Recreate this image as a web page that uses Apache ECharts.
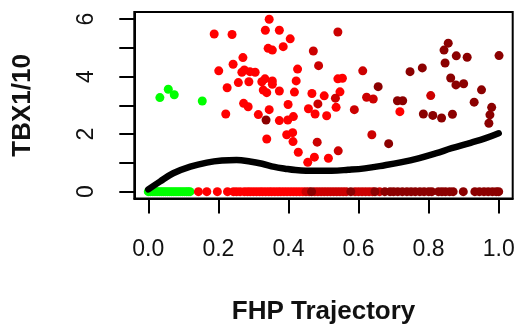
<!DOCTYPE html>
<html>
<head>
<meta charset="utf-8">
<script src="https://cdn.jsdelivr.net/npm/echarts@6/dist/echarts.min.js"></script>
<style>
  html, body { margin: 0; padding: 0; background: #fff; }
  #chart { width: 522px; height: 331px; }
</style>
</head>
<body>
<div id="chart"></div>
<script>
// Cells grouped by trajectory stage; each group has expressed cells (x, y) and non-expressing cells (y = 0).
const greenX = [0.057, 0.074, 0.033, 0.154];
const greenY = [3.56, 3.37, 3.27, 3.15];
const greenZeroX = [0.000, 0.006, 0.013, 0.019, 0.025, 0.031, 0.037, 0.043, 0.049, 0.055, 0.061, 0.067,
                    0.073, 0.079, 0.085, 0.091, 0.097, 0.103, 0.109, 0.114, 0.119];

const redX = [0.188, 0.239, 0.345, 0.334, 0.342, 0.354, 0.270, 0.242, 0.201, 0.267, 0.274, 0.290, 0.305,
              0.257, 0.287, 0.225, 0.324, 0.333, 0.328, 0.338, 0.272, 0.285, 0.374, 0.405, 0.385, 0.426,
              0.354, 0.354, 0.422, 0.541, 0.554, 0.374, 0.417, 0.467, 0.502, 0.547, 0.399, 0.457, 0.345,
              0.536, 0.221, 0.314, 0.374, 0.398, 0.414, 0.476, 0.509, 0.395, 0.412, 0.338, 0.413, 0.428,
              0.474, 0.455, 0.514, 0.718];
const redY = [5.48, 5.46, 5.99, 5.61, 4.98, 4.92, 4.66, 4.43, 4.20, 4.15, 4.23, 4.17, 4.15,
              3.79, 3.82, 3.61, 3.82, 3.92, 3.53, 3.44, 3.07, 2.95, 5.61, 5.31, 5.04, 4.26,
              3.85, 3.73, 3.85, 3.92, 3.94, 3.50, 3.46, 3.41, 3.33, 3.47, 3.03, 2.88, 2.85,
              2.93, 2.70, 2.68, 2.47, 2.49, 2.61, 2.70, 2.64, 1.98, 2.05, 1.83, 1.74, 1.37,
              1.20, 1.02, 1.16, 2.78];
const redZeroX = [0.143, 0.167, 0.197, 0.226, 0.243, 0.252, 0.262, 0.274, 0.283, 0.291, 0.300, 0.309,
                  0.318, 0.326, 0.335, 0.344, 0.352, 0.361, 0.370, 0.378, 0.387, 0.396, 0.405, 0.414,
                  0.423, 0.432, 0.441];

const crimsonX = [0.486, 0.541, 0.471, 0.612, 0.534, 0.484, 0.588, 0.623, 0.642, 0.482, 0.542, 0.638, 0.806];
const crimsonY = [4.38, 5.55, 4.89, 4.20, 3.25, 3.05, 2.85, 3.28, 3.22, 1.72, 1.42, 1.98, 3.34];
const crimsonZeroX = [0.450, 0.459, 0.475, 0.484, 0.493, 0.502, 0.511, 0.520, 0.529, 0.538, 0.547, 0.556,
                      0.565, 0.590, 0.600, 0.610, 0.620, 0.630, 0.640, 0.660];

const darkX = [0.711, 0.726, 0.656, 0.336, 0.686, 0.856, 0.844, 0.879, 0.910, 1.001, 0.847, 0.747, 0.782,
               0.863, 0.878, 0.900, 0.951, 0.930, 0.980, 0.975, 0.972, 0.785, 0.812, 0.837, 0.868];
const darkY = [3.16, 3.16, 3.65, 2.49, 1.67, 5.16, 4.92, 4.72, 4.67, 4.73, 4.47, 4.17, 4.30,
               3.95, 3.71, 3.75, 3.54, 3.11, 2.93, 2.67, 2.38, 2.70, 2.65, 2.56, 2.69];
const darkZeroX = [0.466, 0.578, 0.647, 0.675, 0.690, 0.700, 0.712, 0.725, 0.738, 0.750, 0.762, 0.775,
                   0.787, 0.800, 0.809, 0.828, 0.838, 0.848, 0.860, 0.870, 0.899, 0.932, 0.945, 0.958,
                   0.970, 0.982, 0.993, 1.000];

// Smoothed expression trend along the trajectory
const trendX = [0.000, 0.033, 0.071, 0.120, 0.167, 0.210, 0.252, 0.290, 0.325, 0.360, 0.390, 0.420,
                0.450, 0.523, 0.570, 0.618, 0.675, 0.720, 0.771, 0.820, 0.866, 0.920, 0.961, 1.000];
const trendY = [0.08, 0.35, 0.64, 0.87, 1.01, 1.08, 1.10, 1.05, 0.97, 0.86, 0.80, 0.75,
                0.73, 0.73, 0.76, 0.81, 0.92, 1.02, 1.16, 1.33, 1.51, 1.70, 1.85, 2.03];

const xTicks = [0, 0.2, 0.4, 0.6, 0.8, 1.0];
const yTicks = [0, 1, 2, 3, 4, 5, 6];
const yTickLabels = [0, 2, 4, 6];

function points(xs, ys, zeroXs) {
  const out = xs.map((x, i) => [x, ys[i]]);
  zeroXs.forEach(x => out.push([x, 0]));
  return out;
}

function scatter(name, data, color) {
  return {
    name: name,
    type: 'scatter',
    data: data,
    symbol: 'circle',
    symbolSize: 9,
    itemStyle: { color: color, opacity: 1 },
    emphasis: { disabled: true },
    silent: true,
    z: 2
  };
}

const FONT = '"Liberation Sans", Arial, Helvetica, sans-serif';
const chart = echarts.init(document.getElementById('chart'), null, { renderer: 'canvas' });

chart.setOption({
  animation: false,
  backgroundColor: '#ffffff',
  grid: {
    left: 134.3, right: 9.3, top: 12.1, bottom: 132.4,
    show: true, borderColor: '#000', borderWidth: 2, backgroundColor: 'transparent'
  },
  xAxis: {
    type: 'value',
    min: -0.04, max: 1.04,
    splitLine: { show: false },
    axisLine: { show: true, onZero: false, lineStyle: { color: '#000', width: 2 } },
    axisTick: { show: true, inside: false, length: 15, customValues: xTicks, lineStyle: { color: '#000', width: 2 } },
    axisLabel: {
      customValues: xTicks,
      formatter: v => v.toFixed(1),
      margin: 40,
      fontFamily: FONT, fontSize: 23, color: '#111'
    },
    name: 'FHP Trajectory',
    nameLocation: 'middle',
    nameGap: 100,
    nameTextStyle: { fontFamily: FONT, fontSize: 26, fontWeight: 'bold', color: '#111' }
  },
  yAxis: {
    type: 'value',
    min: -0.24, max: 6.24,
    splitLine: { show: false },
    axisLine: { show: true, onZero: false, lineStyle: { color: '#000', width: 2 } },
    axisTick: { show: true, inside: false, length: 15, customValues: yTicks, lineStyle: { color: '#000', width: 2 } },
    axisLabel: {
      customValues: yTickLabels,
      rotate: 90,
      margin: 36,
      fontFamily: FONT, fontSize: 23, color: '#111'
    },
    name: 'TBX1/10',
    nameLocation: 'middle',
    nameRotate: 90,
    nameGap: 98,
    nameTextStyle: { fontFamily: FONT, fontSize: 26, fontWeight: 'bold', color: '#111' }
  },
  series: [
    scatter('early', points(greenX, greenY, greenZeroX), '#00ff00'),
    scatter('mid', points(redX, redY, redZeroX), '#ff0000'),
    scatter('late', points(crimsonX, crimsonY, crimsonZeroX), '#cc0000'),
    scatter('terminal', points(darkX, darkY, darkZeroX), '#8b0000'),
    {
      name: 'trend',
      type: 'line',
      data: trendX.map((x, i) => [x, trendY[i]]),
      smooth: 0.4,
      showSymbol: false,
      symbol: 'none',
      lineStyle: { color: '#000', width: 6.5, cap: 'round', join: 'round' },
      silent: true,
      z: 3
    }
  ]
});
</script>
</body>
</html>
